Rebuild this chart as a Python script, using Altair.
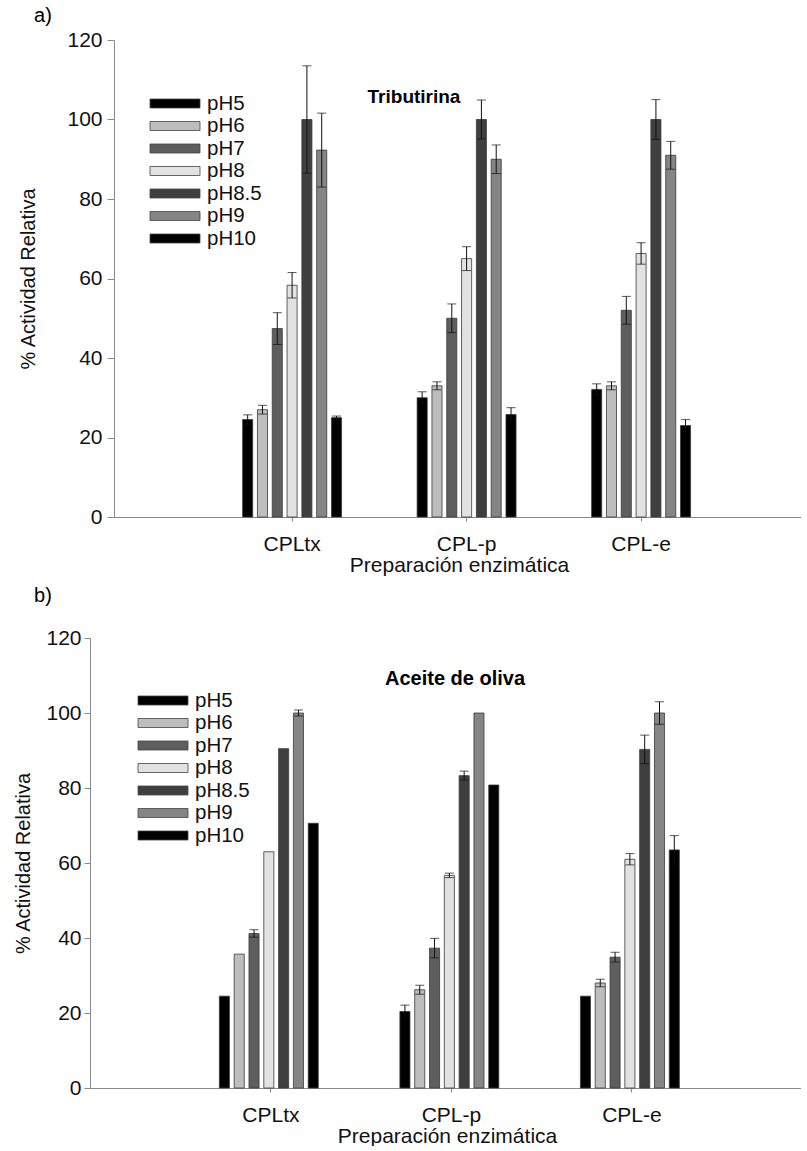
import altair as alt
import pandas as pd

FONT = "Liberation Sans"

ph_levels = ["pH5", "pH6", "pH7", "pH8", "pH8.5", "pH9", "pH10"]
ph_colors = ["#000000", "#bdbdbd", "#5e5e5e", "#e2e2e2", "#3f3f3f", "#858585", "#000000"]
preps = ["CPLtx", "CPL-p", "CPL-e"]
y_ticks = [0, 20, 40, 60, 80, 100, 120]

# a) Tributirina
trib_cpltx = [24.5, 27.0, 47.4, 58.3, 100.0, 92.3, 25.0]
trib_cpltx_err = [1.2, 1.1, 4.0, 3.2, 13.5, 9.3, 0.4]
trib_cplp = [30.0, 33.0, 50.0, 65.0, 100.0, 90.0, 25.8]
trib_cplp_err = [1.5, 1.0, 3.6, 3.0, 4.9, 3.6, 1.7]
trib_cple = [32.1, 33.0, 52.0, 66.3, 100.0, 91.0, 23.0]
trib_cple_err = [1.4, 1.0, 3.5, 2.7, 5.0, 3.5, 1.5]

# b) Aceite de oliva
oliva_cpltx = [24.5, 35.7, 41.2, 63.0, 90.5, 100.0, 70.6]
oliva_cpltx_err = [0.0, 0.0, 1.0, 0.0, 0.0, 0.8, 0.0]
oliva_cplp = [20.4, 26.2, 37.3, 56.7, 83.3, 100.0, 80.8]
oliva_cplp_err = [1.7, 1.2, 2.6, 0.6, 1.2, 0.0, 0.0]
oliva_cple = [24.5, 28.0, 34.9, 61.0, 90.3, 100.0, 63.5]
oliva_cple_err = [0.0, 1.0, 1.3, 1.5, 3.8, 3.0, 3.8]


def build_df(vals_list, errs_list):
    rows = []
    for prep, vals, errs in zip(preps, vals_list, errs_list):
        for ph, v, e in zip(ph_levels, vals, errs):
            rows.append(dict(prep=prep, ph=ph, value=v, err=e, lo=v - e, hi=v + e))
    return pd.DataFrame(rows)


df_a = build_df([trib_cpltx, trib_cplp, trib_cple], [trib_cpltx_err, trib_cplp_err, trib_cple_err])
df_b = build_df([oliva_cpltx, oliva_cplp, oliva_cple], [oliva_cpltx_err, oliva_cplp_err, oliva_cple_err])

# wide flat legend swatch (custom path, scaled by sqrt(symbolSize)/2)
LEGEND_SYMBOL = "M-2.5,-0.45L2.5,-0.45L2.5,0.45L-2.5,0.45Z"


def panel(df, title_text, title_size, tag, width, height, x_range, x_pi, x_po, x_align,
          off_pi, legend_x, legend_y, title_x, title_y, tag_x, tag_y,
          y_offset, y_tick, y_label_pad, y_title_pad, x_label_pad, x_title_pad):
    xs = dict(paddingInner=x_pi, paddingOuter=x_po, align=x_align)
    if x_range is not None:
        xs["range"] = x_range
    x_enc = alt.X(
        "prep:N", sort=preps,
        scale=alt.Scale(**xs),
        axis=alt.Axis(title="Preparación enzimática", labelAngle=0, labelFontSize=21,
                      titleFontSize=21, titleFontWeight="normal", tickSize=4,
                      labelPadding=x_label_pad, titlePadding=x_title_pad,
                      domainColor="#888888", tickColor="#888888", labelColor="#111111",
                      titleColor="#111111", labelFont=FONT, titleFont=FONT),
    )
    xo = alt.XOffset("ph:N", sort=ph_levels,
                     scale=alt.Scale(paddingInner=off_pi, paddingOuter=off_pi / 2))
    y_enc = alt.Y(
        "value:Q",
        scale=alt.Scale(domain=[0, 120], nice=False),
        axis=alt.Axis(title="% Actividad Relativa", values=y_ticks, grid=False,
                      offset=y_offset, tickSize=y_tick, labelPadding=y_label_pad,
                      titlePadding=y_title_pad, labelFontSize=21, titleFontSize=20,
                      titleFontWeight="normal", domainColor="#888888",
                      tickColor="#888888", labelColor="#111111", titleColor="#111111",
                      labelFont=FONT, titleFont=FONT),
    )
    color = alt.Color(
        "ph:N", sort=ph_levels,
        scale=alt.Scale(domain=ph_levels, range=ph_colors),
        legend=alt.Legend(title=None, orient="none", legendX=legend_x, legendY=legend_y,
                          symbolType=LEGEND_SYMBOL, symbolSize=400,
                          symbolStrokeColor="#444444", symbolStrokeWidth=0.8,
                          symbolOpacity=1, labelFontSize=20.5, labelFont=FONT,
                          labelColor="#111111", labelOffset=21.5, rowPadding=1.5,
                          padding=0),
    )
    bars = alt.Chart(df).mark_bar(stroke="#3a3a3a", strokeWidth=0.8, opacity=1).encode(
        x=x_enc, xOffset=xo, y=y_enc, color=color
    )
    err_df = df[df["err"] > 0]
    rules = alt.Chart(err_df).mark_rule(color="#111111", strokeWidth=1).encode(
        x=x_enc, xOffset=xo, y="lo:Q", y2="hi:Q"
    )
    cap_hi = alt.Chart(err_df).mark_tick(color="#111111", thickness=1, size=9,
                                         orient="horizontal").encode(
        x=x_enc, xOffset=xo, y="hi:Q"
    )
    cap_lo = alt.Chart(err_df).mark_tick(color="#111111", thickness=1, size=9,
                                         orient="horizontal").encode(
        x=x_enc, xOffset=xo, y="lo:Q"
    )
    title = alt.Chart(pd.DataFrame({"t": [title_text]})).mark_text(
        font=FONT, fontSize=title_size, fontWeight="bold", color="#000000",
        align="center", baseline="middle"
    ).encode(x=alt.value(title_x), y=alt.value(title_y), text="t:N")
    tagm = alt.Chart(pd.DataFrame({"t": [tag]})).mark_text(
        font=FONT, fontSize=20, color="#000000", align="center", baseline="middle"
    ).encode(x=alt.value(tag_x), y=alt.value(tag_y), text="t:N")
    return alt.layer(bars, rules, cap_hi, cap_lo, title, tagm).properties(
        width=width, height=height
    )


# panel a: plot area starts at the shared column origin
chart_a = panel(df_a, "Tributirina", 19, "a)", 690, 477, None, 0.406, 0.68, 0.532, 0.32,
                50.5, 53, 300, 57, -71, -24,
                0, 7, 5, 28, 12, 0)
# panel b: its axis sits 24 px further left than panel a's
chart_b = panel(df_b, "Aceite de oliva", 20, "b)", 690, 450, [-24, 690], 0.403, 0.679,
                0.518, 0.35, 38.5, 52, 341, 41, -71, -42,
                24, 6, 3, 12, 12, 0)

chart = alt.vconcat(chart_a, chart_b, spacing=11).resolve_scale(
    color="independent"
).resolve_legend(color="independent").properties(
    padding={"left": 13, "top": 6, "right": -27, "bottom": 0}
).configure(font=FONT).configure_view(stroke="transparent", strokeWidth=0)

chart.save("out.html", embed_options={"renderer": "svg", "actions": False})
